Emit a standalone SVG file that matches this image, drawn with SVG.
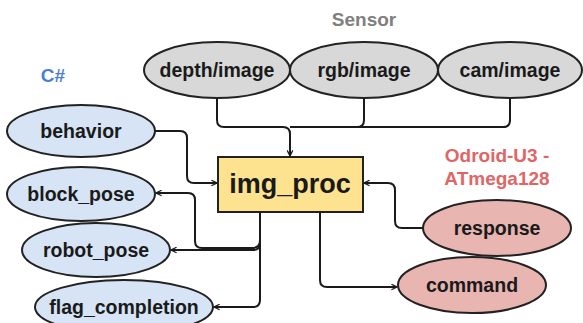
<svg xmlns="http://www.w3.org/2000/svg" width="583" height="323" viewBox="0 0 583 323">
<defs>
<style>
text{font-family:"Liberation Sans",Arial,sans-serif;font-weight:bold;text-anchor:middle;dominant-baseline:central}
.lbl{font-size:19.5px;fill:#1a1a1a}
.grp{font-size:19px}
.grey{fill:#d8d8d8;stroke:#222;stroke-width:2}
.blue{fill:#d6e4f5;stroke:#222;stroke-width:2}
.pink{fill:#e8b5b0;stroke:#222;stroke-width:2}
.edge{fill:none;stroke:#1a1a1a;stroke-width:2;stroke-linejoin:round}
</style>
<marker id="arr" viewBox="0 0 10 10" refX="9" refY="5" markerWidth="7" markerHeight="7" orient="auto" markerUnits="userSpaceOnUse">
<path d="M1,1 L9,5 L1,9" fill="none" stroke="#1a1a1a" stroke-width="1.8"/>
</marker>
</defs>
<rect width="583" height="323" fill="#fff"/>
<text class="grp" x="364" y="19" style="fill:#808080">Sensor</text>
<text class="grp" x="53" y="75" style="fill:#4a7fd4">C#</text>
<text class="grp" x="497" y="155" style="fill:#e06666">Odroid-U3 -</text>
<text class="grp" x="497" y="178" style="fill:#e06666">ATmega128</text>
<g id="connectors">
<path class="edge" d="M217,98 V120 Q217,127 224,127 H283 Q290,127 290,134 V156" marker-end="url(#arr)"/>
<path class="edge" d="M364,98 V120 Q364,127 357,127 H290"/>
<path class="edge" d="M510,98 V120 Q510,127 503,127 H357"/>
<path class="edge" d="M155,131 H180 Q187,131 187,138 V176 Q187,183 194,183 H217" marker-end="url(#arr)"/>
<path class="edge" d="M423,228 H402 Q395,228 395,221 V190 Q395,183 388,183 H364" marker-end="url(#arr)"/>
<path class="edge" d="M320,212 V280 Q320,287 327,287 H397" marker-end="url(#arr)"/>
<path class="edge" d="M260,212 V243 Q260,250 253,250 H171" marker-end="url(#arr)"/>
<path class="edge" d="M260,240 Q260,248 252,248 H202 Q195,248 195,241 V200 Q195,193 188,193 H156" marker-end="url(#arr)"/>
<path class="edge" d="M260,212 V300 Q260,307 253,307 H214" marker-end="url(#arr)"/>
</g>
<g id="depth"><ellipse class="grey" cx="217" cy="70" rx="73" ry="28"/><text class="lbl" x="217" y="70">depth/image</text></g>
<g id="rgb"><ellipse class="grey" cx="364" cy="70" rx="74" ry="28"/><text class="lbl" x="364" y="70">rgb/image</text></g>
<g id="cam"><ellipse class="grey" cx="510" cy="70" rx="72" ry="28"/><text class="lbl" x="510" y="70">cam/image</text></g>
<g id="behavior"><ellipse class="blue" cx="81" cy="131" rx="74" ry="26"/><text class="lbl" x="81" y="131">behavior</text></g>
<g id="block_pose"><ellipse class="blue" cx="81" cy="194" rx="74" ry="27"/><text class="lbl" x="81" y="194">block_pose</text></g>
<g id="robot_pose"><ellipse class="blue" cx="96" cy="250" rx="74" ry="27"/><text class="lbl" x="96" y="250">robot_pose</text></g>
<g id="flag_completion"><ellipse class="blue" cx="124" cy="307" rx="89" ry="27"/><text class="lbl" x="124" y="307">flag_completion</text></g>
<g id="img_proc"><rect x="218" y="157" width="145" height="55" fill="#fde28f" stroke="#222" stroke-width="2"/><text x="290" y="184" style="font-size:27px;fill:#1a1a1a">img_proc</text></g>
<g id="response"><ellipse class="pink" cx="497" cy="228" rx="74" ry="28"/><text class="lbl" x="497" y="228">response</text></g>
<g id="command"><ellipse class="pink" cx="472" cy="285" rx="74" ry="28"/><text class="lbl" x="472" y="285">command</text></g>
</svg>
